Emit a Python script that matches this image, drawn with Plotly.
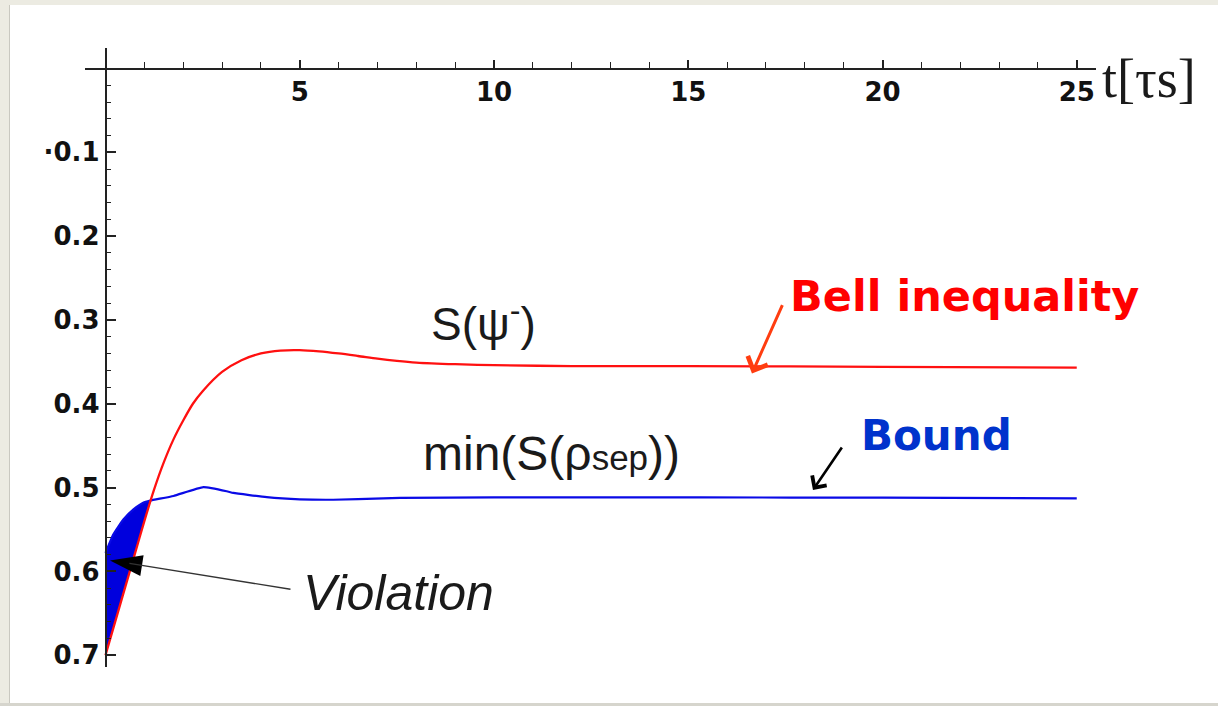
import plotly.graph_objects as go

# ---------------- data ----------------
t_red = [0.0, 0.25, 0.5, 0.75, 1.0, 1.25, 1.5, 1.75, 2.0, 2.25, 2.5, 3.0, 3.5, 4.0,
         4.5, 5.0, 5.5, 6.0, 6.5, 7.0, 7.5, 8.0, 9.0, 10.0, 12.0, 15.0, 20.0, 25.0]
s_red = [0.700, 0.660, 0.620, 0.580, 0.540, 0.5025, 0.470, 0.4425, 0.420, 0.400, 0.385,
         0.362, 0.348, 0.340, 0.3365, 0.336, 0.3375, 0.340, 0.343, 0.3462, 0.3488, 0.3508,
         0.3528, 0.354, 0.355, 0.355, 0.356, 0.357]

t_blue = [0.0, 0.2, 0.46, 0.72, 0.97, 1.15, 1.75, 2.52, 3.12, 3.29, 4.15, 5.0, 5.86,
          7.15, 7.58, 10.0, 15.3, 20.0, 25.0]
s_blue = [0.578, 0.556, 0.538, 0.526, 0.518, 0.5155, 0.510, 0.4995, 0.5044, 0.5064,
          0.5115, 0.514, 0.5145, 0.5128, 0.5122, 0.5118, 0.5118, 0.512, 0.513]

# crossing point of the two curves
t_cross = 1.17
s_cross = 0.515

x_tickvals = [5, 10, 15, 20, 25]
x_ticktext = ["5", "10", "15", "20", "25"]
x_minor = list(range(1, 26))
y_tickvals = [0.1, 0.2, 0.3, 0.4, 0.5, 0.6, 0.7]
y_ticktext = ["\u00b70.1", "0.2", "0.3", "0.4", "0.5", "0.6", "0.7"]
y_minor = [round(0.02 * k, 2) for k in range(1, 36)]

# annotation anchor points (data coordinates)
violation_tip = (0.116, 0.587)
violation_tail = (4.80, 0.6216)
bell_tip = (16.64, 0.3638)
bell_tail = (17.44, 0.2806)
bound_tip = (18.21, 0.5028)
bound_tail = (18.98, 0.4505)

# ---------------- figure ----------------
fig = go.Figure()

# violation region between the two curves before crossing
fb_t = [t for t in t_blue if t < t_cross] + [t_cross]
fb_s = [s for t, s in zip(t_blue, s_blue) if t < t_cross] + [s_cross]
fr_t = [t for t in t_red if t < t_cross][::-1]
fr_s = [s for t, s in zip(t_red, s_red) if t < t_cross][::-1]
fig.add_trace(go.Scatter(x=fb_t + fr_t, y=fb_s + fr_s, mode="lines", fill="toself",
                         fillcolor="#0000dd", line=dict(width=0, color="#0000dd"),
                         hoverinfo="skip", showlegend=False))

fig.add_trace(go.Scatter(x=t_blue, y=s_blue, mode="lines",
                         line=dict(color="#0a0ae6", width=2.2, shape="spline", smoothing=0.4),
                         showlegend=False))
fig.add_trace(go.Scatter(x=t_red, y=s_red, mode="lines",
                         line=dict(color="#ff1010", width=2.3, shape="spline", smoothing=0.8),
                         showlegend=False))

# arrowhead of the "Violation" arrow
fig.add_trace(go.Scatter(x=[violation_tip[0]], y=[violation_tip[1]], mode="markers",
                         marker=dict(symbol="arrow", size=34, angle=-81, color="#000000",
                                     line=dict(width=0)),
                         hoverinfo="skip", showlegend=False))

W, H = 1218, 709
x_rng = [-0.54, 25.5]
y_rng = [0.714, -0.024]
px_per_t = 38.85
x0_px = 105.5
py_per_v = 841.7
y0_py = 68.8

dom_x = [(x0_px + x_rng[0] * px_per_t) / W, (x0_px + x_rng[1] * px_per_t) / W]
dom_y = [1 - (y0_py + y_rng[0] * py_per_v) / H, 1 - (y0_py + y_rng[1] * py_per_v) / H]

tickfont = dict(family="DejaVu Sans", size=26, color="#111111", weight="bold")
axcol = "#222222"

fig.update_layout(
    width=W, height=H,
    margin=dict(l=0, r=0, t=0, b=0),
    paper_bgcolor="white", plot_bgcolor="rgba(0,0,0,0)",
    xaxis=dict(domain=dom_x, range=x_rng, anchor="free", position=1 - y0_py / H,
               showline=True, linecolor=axcol, linewidth=1.6,
               ticks="inside", ticklen=8, tickwidth=1.5, tickcolor=axcol,
               tickmode="array", tickvals=x_tickvals, ticktext=x_ticktext,
               minor=dict(tickmode="array", tickvals=x_minor, ticks="inside",
                          ticklen=6, tickwidth=1.3, tickcolor=axcol),
               showgrid=False, zeroline=False, tickfont=tickfont, side="bottom"),
    yaxis=dict(domain=dom_y, range=y_rng, anchor="free", position=x0_px / W,
               showline=True, linecolor=axcol, linewidth=1.6,
               ticks="inside", ticklen=10, tickwidth=1.5, tickcolor=axcol,
               tickmode="array", tickvals=y_tickvals, ticktext=y_ticktext,
               minor=dict(tickmode="array", tickvals=y_minor, ticks="inside",
                          ticklen=5, tickwidth=1.3, tickcolor=axcol),
               showgrid=False, zeroline=False, tickfont=tickfont, side="left"),
    showlegend=False,
)

# window frame decoration
fig.add_shape(type="rect", xref="paper", yref="paper", x0=0, x1=9 / W, y0=0, y1=1,
              fillcolor="#ecebe2", line=dict(width=0), layer="below")
fig.add_shape(type="line", xref="paper", yref="paper", x0=9.5 / W, x1=9.5 / W, y0=0, y1=1,
              line=dict(color="#c9c8c0", width=1), layer="below")
fig.add_shape(type="rect", xref="paper", yref="paper", x0=0, x1=1, y0=1 - 5 / H, y1=1,
              fillcolor="#ecebe2", line=dict(width=0), layer="below")
fig.add_shape(type="rect", xref="paper", yref="paper", x0=0, x1=1, y0=0, y1=3 / H,
              fillcolor="#d6d5cd", line=dict(width=0), layer="below")

txtfont = dict(family="Liberation Sans", color="#1a1a1a")

# axis label (placed in paper coords since it lies beyond the axis range)
fig.add_annotation(x=1149 / W, y=1 - 79 / H, xref="paper", yref="paper", showarrow=False,
                   xanchor="center", yanchor="middle",
                   text="t[\u03c4s]", font=dict(family="Liberation Serif", size=54, color="#1a1a1a"))
fig.add_annotation(x=9.74, y=0.301, xref="x", yref="y", showarrow=False,
                   text="S(\u03c8<sup>-</sup>)", font=dict(size=46, **txtfont))
fig.add_annotation(x=11.49, y=0.459, xref="x", yref="y", showarrow=False,
                   text="min(S(\u03c1<span style='font-size:35px'>sep</span>))",
                   font=dict(size=48, **txtfont))
fig.add_annotation(x=7.53, y=0.626, xref="x", yref="y", showarrow=False,
                   text="<i>Violation</i>", font=dict(size=50, **txtfont))

# arrow lines
fig.add_annotation(x=violation_tip[0] + 0.5, y=violation_tip[1] + 0.0035, ax=violation_tail[0], ay=violation_tail[1],
                   xref="x", yref="y", axref="x", ayref="y", text="", showarrow=True,
                   arrowhead=0, arrowwidth=1.4, arrowcolor="#333333")
fig.add_annotation(x=bell_tip[0], y=bell_tip[1], ax=bell_tail[0], ay=bell_tail[1],
                   xref="x", yref="y", axref="x", ayref="y", text="", showarrow=True,
                   arrowhead=4, arrowsize=1.4, arrowwidth=3, arrowcolor="#ff3d10")
fig.add_annotation(x=bound_tip[0], y=bound_tip[1], ax=bound_tail[0], ay=bound_tail[1],
                   xref="x", yref="y", axref="x", ayref="y", text="", showarrow=True,
                   arrowhead=4, arrowsize=1.3, arrowwidth=2.6, arrowcolor="#000000")

fig.add_annotation(x=22.12, y=0.272, xref="x", yref="y", showarrow=False,
                   text="<b>Bell inequality</b>",
                   font=dict(family="DejaVu Sans", size=43, color="#ff0000"))
fig.add_annotation(x=21.38, y=0.438, xref="x", yref="y", showarrow=False,
                   text="<b>Bound</b>",
                   font=dict(family="DejaVu Sans", size=42, color="#0033cc"))

fig.write_html("out.html")
